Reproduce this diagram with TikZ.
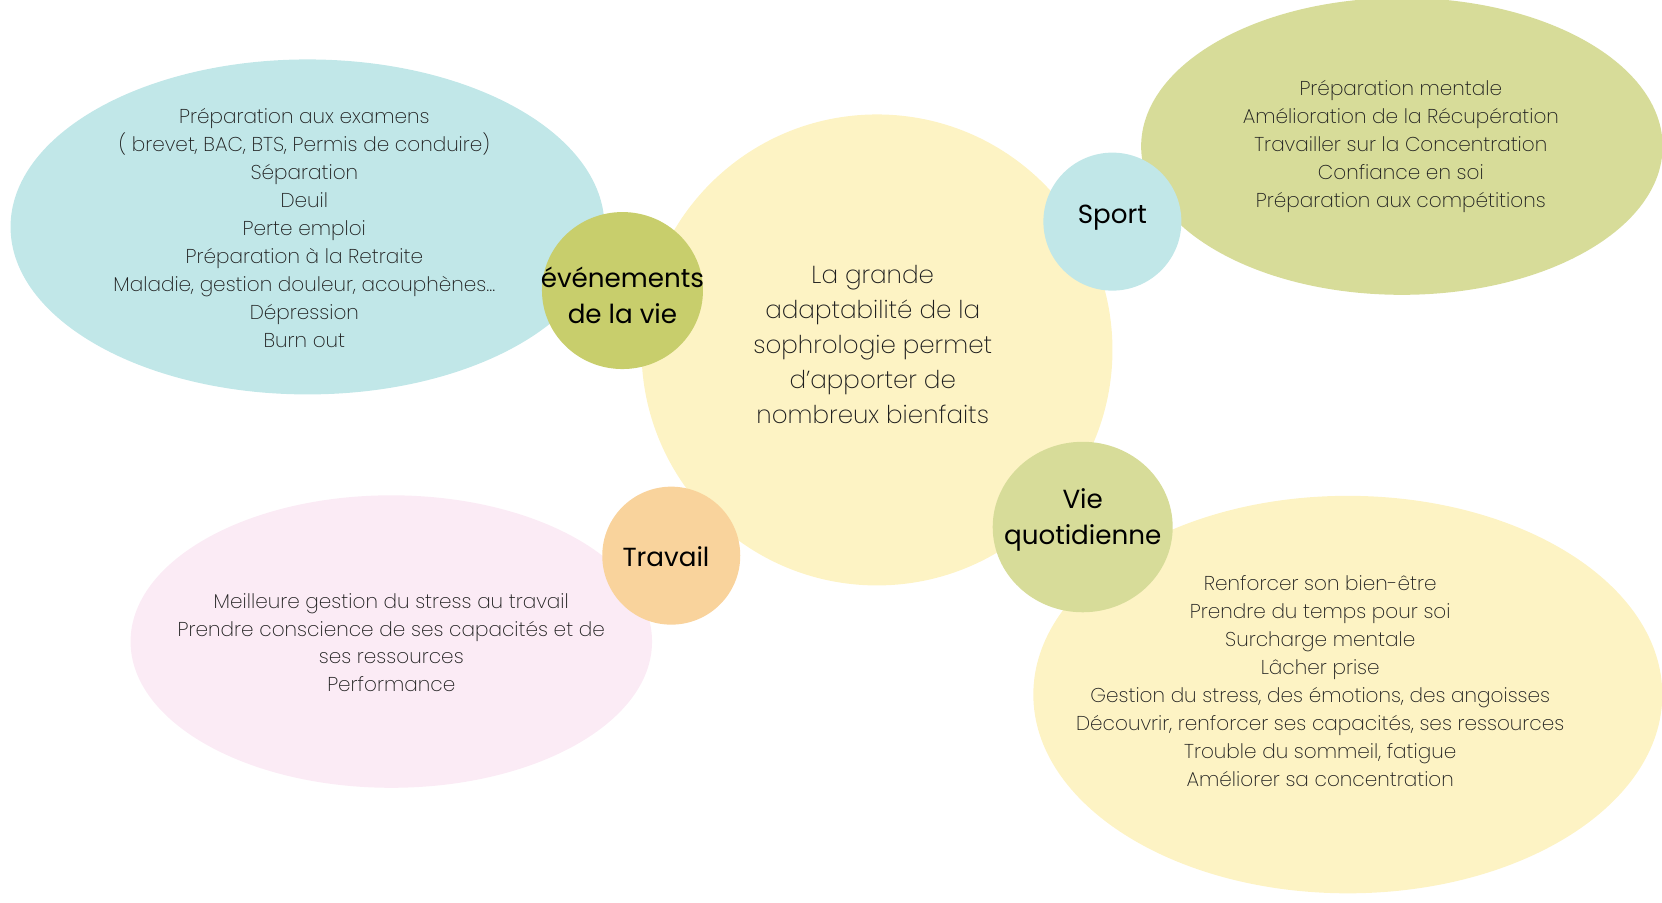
\documentclass[tikz,border=0pt]{standalone}
\usepackage{fontspec}
\setmainfont{Poppins}[UprightFont={* ExtraLight}]
\newfontfamily\labelfont{Poppins}
\usetikzlibrary{shapes.geometric}
\definecolor{cblue}{HTML}{C1E7E8}
\definecolor{cgreen}{HTML}{C8CE6C}
\definecolor{cyellow}{HTML}{FDF3C4}
\definecolor{clgreen}{HTML}{D7DC99}
\definecolor{corange}{HTML}{F9D39C}
\definecolor{cpink}{HTML}{FBEBF5}
\definecolor{txt}{HTML}{1E1E1E}
\begin{document}
\begin{tikzpicture}[x=0.02121cm,y=-0.02121cm,
  blob/.style={ellipse, inner sep=0pt, draw=none},
  listtext/.style={align=center, font=\fontsize{11.4}{15.9}\selectfont, text=txt},
  centertext/.style={align=center, font=\fontsize{14}{19.9}\selectfont, text=txt},
  lab/.style={align=center, font=\labelfont\fontsize{14.9}{20.5}\selectfont, text=black}]
\useasboundingbox (0,0) rectangle (1567.3,851.5);
% big ellipses
\node[blob, fill=cblue, minimum width=11.88cm, minimum height=6.70cm] (evE) at (290,214) {};
\node[blob, fill=cpink, minimum width=10.43cm, minimum height=5.85cm] (trE) at (369,605) {};
\node[blob, fill=clgreen, minimum width=10.43cm, minimum height=5.94cm] (spE) at (1322,138) {};
\node[blob, fill=cyellow, minimum width=12.58cm, minimum height=7.95cm] (viE) at (1271,655) {};
% central circle
\node[blob, fill=cyellow, minimum width=9.42cm, minimum height=9.42cm] (center) at (827,330) {};
% label circles
\node[blob, fill=cgreen, minimum width=3.22cm, minimum height=3.14cm] (evC) at (587,274) {};
\node[blob, fill=cblue, minimum width=2.76cm, minimum height=2.76cm] (spC) at (1049,209) {};
\node[blob, fill=clgreen, minimum width=3.6cm, minimum height=3.41cm] (viC) at (1021,497) {};
\node[blob, fill=corange, minimum width=2.76cm, minimum height=2.76cm] (trC) at (633,524) {};
% texts
\node[centertext] (centerT) at (823,325) {La grande\\adaptabilité de la\\sophrologie permet\\d’apporter de\\nombreux bienfaits};
\node[lab] (evL) at (587,279) {événements\\de la vie};
\node[lab] (spL) at (1049,205) {Sport};
\node[lab] (viL) at (1021,490) {Vie\\quotidienne};
\node[lab] (trL) at (628,525) {Travail};
\node[listtext] (evT) at (287,215) {Préparation aux examens\\( brevet, BAC, BTS, Permis de conduire)\\Séparation\\Deuil\\Perte emploi\\Préparation à la Retraite\\Maladie, gestion douleur, acouphènes...\\Dépression\\Burn out};
\node[listtext] (spT) at (1321,138) {Préparation mentale\\Amélioration de la Récupération\\Travailler sur la Concentration\\Confiance en soi\\Préparation aux compétitions};
\node[listtext] (viT) at (1245,642) {Renforcer son bien-être\\Prendre du temps pour soi\\Surcharge mentale\\Lâcher prise\\Gestion du stress, des émotions, des angoisses\\Découvrir, renforcer ses capacités, ses ressources\\Trouble du sommeil, fatigue\\Améliorer sa concentration};
\node[listtext] (trT) at (369,606) {Meilleure gestion du stress au travail\\Prendre conscience de ses capacités et de\\ses ressources\\Performance};
\end{tikzpicture}
\end{document}
